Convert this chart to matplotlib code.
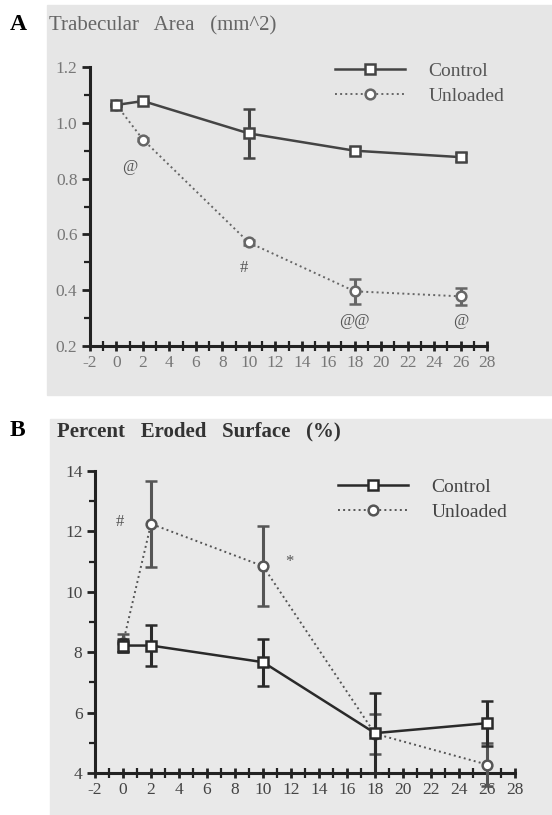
import matplotlib
matplotlib.use("Agg")
import matplotlib.pyplot as plt
from matplotlib.patches import Rectangle
from matplotlib.lines import Line2D
from matplotlib.ticker import MultipleLocator

plt.rcParams['font.family'] = ['Liberation Serif', 'DejaVu Serif']
plt.rcParams['axes.unicode_minus'] = False

# data
weeks = [0, 2, 10, 18, 26]

a_ctrl = [1.064, 1.078, 0.962, 0.900, 0.877]
a_ctrl_err = [0.005, 0.005, 0.088, 0.012, 0.015]
a_unl = [1.064, 0.940, 0.571, 0.396, 0.378]
a_unl_err = [0.005, 0.005, 0.010, 0.045, 0.030]
a_marks = [("@", 1.0, 0.84), ("#", 9.6, 0.48), ("@@", 18.0, 0.29), ("@", 26.0, 0.29)]

b_ctrl = [8.22, 8.22, 7.67, 5.32, 5.65]
b_ctrl_err = [0.22, 0.68, 0.78, 1.32, 0.75]
b_unl = [8.30, 12.25, 10.85, 5.30, 4.28]
b_unl_err = [0.30, 1.42, 1.32, 0.66, 0.72]
b_marks = [("#", -0.2, 12.3), ("*", 11.9, 11.0)]

W, H = 552, 815
fig = plt.figure(figsize=(W / 100, H / 100), dpi=100)
fig.patch.set_facecolor('white')


def px_axes(x0, x1, y0, y1):
    # pixel box (top-left origin) -> figure fraction
    return fig.add_axes([x0 / W, 1 - y1 / H, (x1 - x0) / W, (y1 - y0) / H])


def panel(ax, ctrl, ctrl_err, unl, unl_err, ylim, ymaj, ymin, lc, uc, marks, tcol):
    ax.set_facecolor('none')
    ax.errorbar(weeks, unl, yerr=unl_err, color=uc, ls=':', lw=1.4, marker='o',
                ms=7, mfc='white', mec=uc, mew=1.8, capsize=4, elinewidth=2.2,
                capthick=2.2, clip_on=False, zorder=3)
    ax.errorbar(weeks, ctrl, yerr=ctrl_err, color=lc, ls='-', lw=1.8, marker='s',
                ms=7.5, mfc='white', mec=lc, mew=1.8, capsize=4, elinewidth=2.2,
                capthick=2.2, clip_on=False, zorder=4)
    ax.set_xlim(-2, 28)
    ax.set_ylim(*ylim)
    for s in ['top', 'right']:
        ax.spines[s].set_visible(False)
    for s in ['left', 'bottom']:
        ax.spines[s].set_linewidth(2.2)
        ax.spines[s].set_color('#222222')
    ax.xaxis.set_major_locator(MultipleLocator(2))
    ax.xaxis.set_minor_locator(MultipleLocator(1))
    ax.yaxis.set_major_locator(MultipleLocator(ymaj))
    ax.yaxis.set_minor_locator(MultipleLocator(ymin))
    ax.tick_params(axis='both', which='major', length=6, width=2, color='#222222',
                   labelsize=12.5, labelcolor=tcol, pad=3)
    ax.tick_params(axis='both', which='minor', length=4, width=1.6, color='#222222')
    ax.tick_params(axis='x', which='both', direction='inout', length=7)
    for t, x, y in marks:
        ax.text(x, y, t, ha='center', va='center', fontsize=12, color='#555555')
    handles = [Line2D([], [], color=lc, ls='-', lw=1.8, marker='s', ms=7.5,
                      mfc='white', mec=lc, mew=1.8),
               Line2D([], [], color=uc, ls=':', lw=1.4, marker='o', ms=7,
                      mfc='white', mec=uc, mew=1.8)]
    return handles


def legend(handles, x, y, col):
    fig.legend(handles, ['Control', 'Unloaded'], loc='upper left',
               bbox_to_anchor=(x / W, 1 - y / H), frameon=False, fontsize=14,
               handlelength=3.6, handletextpad=1.2, labelspacing=0.4,
               borderpad=0, borderaxespad=0, labelcolor=col)


# panel A
fig.add_artist(Rectangle((47 / W, 1 - 395 / H), (W - 47) / W, 390 / H,
                         transform=fig.transFigure, color='#e6e6e6', zorder=0))
axA = px_axes(90, 487, 67, 346)
hA = panel(axA, a_ctrl, a_ctrl_err, a_unl, a_unl_err, (0.2, 1.2), 0.2, 0.1,
           '#444444', '#666666', a_marks, '#777777')
axA.set_yticks([0.2, 0.4, 0.6, 0.8, 1.0, 1.2])
axA.set_yticklabels(['0.2', '0.4', '0.6', '0.8', '1.0', '1.2'])
legend(hA, 335, 62, '#555555')
fig.text(49 / W, 1 - 26 / H, 'Trabecular   Area   (mm^2)', fontsize=15,
         color='#666666', va='center', ha='left')
fig.text(10 / W, 1 - 24 / H, 'A', fontsize=17, fontweight='bold', va='center')

# panel B
fig.add_artist(Rectangle((50 / W, 0), (W - 50) / W, 396 / H,
                         transform=fig.transFigure, color='#e9e9e9', zorder=0))
axB = px_axes(95, 515, 471, 773)
hB = panel(axB, b_ctrl, b_ctrl_err, b_unl, b_unl_err, (4, 14), 2, 1,
           '#2a2a2a', '#555555', b_marks, '#444444')
legend(hB, 338, 478, '#444444')
fig.text(57 / W, 1 - 431 / H, 'Percent   Eroded   Surface   (%)', fontsize=15,
         fontweight='bold', color='#333333', va='center', ha='left')
fig.text(10 / W, 1 - 431 / H, 'B', fontsize=17, fontweight='bold', va='center')

fig.savefig('out.png', dpi=100)
